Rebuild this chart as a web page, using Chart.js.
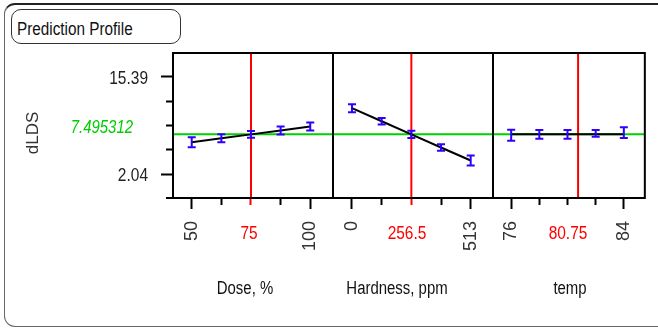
<!DOCTYPE html>
<html>
<head>
<meta charset="utf-8">
<title>Prediction Profile</title>
<script src="https://cdn.jsdelivr.net/npm/chart.js@4/dist/chart.umd.min.js"></script>
<style>
  html, body { margin: 0; padding: 0; background: #fff; }
  #wrap { position: relative; width: 658px; height: 329px; overflow: hidden; }
  #outer { position: absolute; left: 4px; top: 3px; width: 720px; height: 321px;
           border: 1px solid #666; border-top: 2px solid #222; border-radius: 11px; }
  #titleBox { position: absolute; left: 11px; top: 9px; width: 168px; height: 33px;
              border: 1px solid #333; border-radius: 10px; }
  #titleBox span { position: absolute; left: 5px; top: 9px; line-height: 20px; color: #111; white-space: nowrap;
                   font-size: 18px; font-family: "Liberation Sans", Arial, sans-serif;
                   transform: scaleX(0.85); transform-origin: left center; }
  canvas { position: absolute; left: 0; top: 0; }
</style>
</head>
<body>
<div id="wrap">
  <div id="outer"></div>
  <div id="titleBox"><span>Prediction Profile</span></div>
  <canvas id="c1" width="658" height="329"></canvas>
  <canvas id="c2" width="658" height="329"></canvas>
  <canvas id="c3" width="658" height="329"></canvas>
</div>
<script>
// response
const responseName = 'dLDS';
const predicted = 7.495312;
const yTicks = [2.04, 5.3775, 8.715, 12.0525, 15.39];
const yTickLabels = ['2.04', '', '', '', '15.39'];
const yMin = -1.26, yMax = 18.69;

// factors
const factorNames = ['Dose, %', 'Hardness, ppm', 'temp'];
const currentValues = [75, 256.5, 80.75];
const currentLabels = ['75', '256.5', '80.75'];

const doseLevels = [50, 62.5, 75, 87.5, 100];
const doseMean = [6.40, 6.95, 7.495, 8.04, 8.59];
const doseLow = [5.71, 6.40, 7.04, 7.49, 8.04];
const doseHigh = [7.09, 7.50, 7.95, 8.59, 9.14];
const doseTickLabels = ['50', '', '', '', '100'];
const doseRange = [42.1, 109.6];

const hardLevels = [0, 128.25, 256.5, 384.75, 513];
const hardMean = [11.1, 9.3, 7.495, 5.69, 3.9];
const hardLow = [10.55, 8.84, 7.0, 5.23, 3.21];
const hardHigh = [11.65, 9.76, 8.0, 6.15, 4.59];
const hardTickLabels = ['0', '', '', '', '513'];
const hardRange = [-82.1, 609.4];

const tempLevels = [76, 78, 80, 82, 84];
const tempMean = [7.495, 7.495, 7.495, 7.495, 7.495];
const tempLow = [6.63, 6.90, 6.90, 7.18, 7.00];
const tempHigh = [8.14, 8.10, 8.10, 8.10, 8.47];
const tempTickLabels = ['76', '', '', '', '84'];
const tempRange = [74.71, 85.49];

const REG = '"Liberation Sans", Arial, sans-serif';

const panels = [
  { id: 'c1', left: 173, right: 333, levels: doseLevels, mean: doseMean, low: doseLow, high: doseHigh,
    tickLabels: doseTickLabels, range: doseRange, k: 0, nameX: 245, curX: 249 },
  { id: 'c2', left: 333, right: 493, levels: hardLevels, mean: hardMean, low: hardLow, high: hardHigh,
    tickLabels: hardTickLabels, range: hardRange, k: 1, nameX: 397, curX: 407 },
  { id: 'c3', left: 493, right: 654, levels: tempLevels, mean: tempMean, low: tempLow, high: tempHigh,
    tickLabels: tempTickLabels, range: tempRange, k: 2, nameX: 570, curX: 568 }
];

// the original uses a narrow face, squeeze Liberation Sans sideways
function squeezedText(ctx, text, x, y, align, font, color, sx) {
  ctx.save();
  ctx.translate(x, y);
  ctx.scale(sx, 1);
  ctx.font = font;
  ctx.textAlign = align;
  ctx.fillStyle = color;
  ctx.fillText(text, 0, 0);
  ctx.restore();
}

// error bars, frame and labels
const profileDecor = {
  id: 'profileDecor',
  afterDatasetsDraw(chart, args, opts) {
    const p = opts.panel;
    const { ctx, chartArea: a } = chart;
    const x = chart.scales.x, y = chart.scales.y;
    ctx.save();
    ctx.strokeStyle = '#3000ff';
    ctx.lineWidth = 2;
    p.levels.forEach((lv, i) => {
      const px = x.getPixelForValue(lv);
      const y1 = y.getPixelForValue(p.low[i]);
      const y2 = y.getPixelForValue(p.high[i]);
      ctx.beginPath();
      ctx.moveTo(px, y1); ctx.lineTo(px, y2);
      ctx.moveTo(px - 4, y1); ctx.lineTo(px + 4, y1);
      ctx.moveTo(px - 4, y2); ctx.lineTo(px + 4, y2);
      ctx.stroke();
    });
    ctx.strokeStyle = '#000';
    ctx.lineWidth = 2;
    ctx.strokeRect(a.left, a.top, a.right - a.left, a.bottom - a.top);
    if (p.k === 0) {
      ctx.beginPath();
      ctx.moveTo(a.left - 7, a.bottom); ctx.lineTo(a.left, a.bottom);
      ctx.stroke();
    }
    ctx.restore();
  },
  afterDraw(chart, args, opts) {
    const p = opts.panel;
    const ctx = chart.ctx;
    squeezedText(ctx, currentLabels[p.k], p.curX, 239, 'center', '18px ' + REG, '#ff0000', 0.86);
    squeezedText(ctx, factorNames[p.k], p.nameX, 294, 'center', '18px ' + REG, '#111', 0.83);
    if (p.k === 0) {
      const y = chart.scales.y;
      yTicks.forEach((v, i) => {
        if (yTickLabels[i]) {
          squeezedText(ctx, yTickLabels[i], 148, y.getPixelForValue(v) + 7, 'right', '18px ' + REG, '#222', 0.86);
        }
      });
      squeezedText(ctx, String(predicted), 133, 133, 'right', 'italic 18px ' + REG, '#00cc00', 0.83);
      ctx.save();
      ctx.fillStyle = '#333';
      ctx.font = '17px ' + REG;
      ctx.translate(38, 133);
      ctx.rotate(-Math.PI / 2);
      ctx.textAlign = 'center';
      ctx.fillText(responseName, 0, 0);
      ctx.restore();
    }
  }
};

function makePanel(p) {
  const first = p.k === 0;
  const current = currentValues[p.k];
  const yScale = first ? {
    min: yMin, max: yMax,
    afterBuildTicks: s => { s.ticks = yTicks.map(v => ({ value: v })); },
    afterFit: s => { s.width = 173; },
    ticks: { display: false },
    grid: { drawOnChartArea: false, tickLength: 12, tickWidth: 2, tickColor: '#000',
            tickBorderDash: c => (yTickLabels[c.index] ? [] : [0, 5, 7, 50]) },
    border: { display: true, color: '#000', width: 2 }
  } : { display: false, min: yMin, max: yMax };

  return new Chart(document.getElementById(p.id), {
    type: 'line',
    data: {
      datasets: [
        { label: 'mean', data: p.levels.map((lv, i) => ({ x: lv, y: p.mean[i] })),
          borderColor: '#000', borderWidth: 2, pointRadius: 0 },
        { label: 'current', data: [{ x: current, y: yMin }, { x: current, y: yMax }],
          borderColor: '#ff0000', borderWidth: 2, pointRadius: 0 },
        { label: 'predicted', data: [{ x: p.range[0], y: predicted }, { x: p.range[1], y: predicted }],
          borderColor: '#00d000', borderWidth: 2, pointRadius: 0 }
      ]
    },
    options: {
      responsive: false,
      animation: false,
      layout: { padding: { left: first ? 0 : p.left, right: 658 - p.right, top: 53, bottom: 0 } },
      plugins: { legend: { display: false }, tooltip: { enabled: false }, profileDecor: { panel: p } },
      scales: {
        x: {
          type: 'linear', min: p.range[0], max: p.range[1],
          afterBuildTicks: s => { s.ticks = p.levels.map(v => ({ value: v })); },
          afterFit: s => { s.height = 131; },
          ticks: { autoSkip: false, minRotation: 90, maxRotation: 90, padding: 12, color: '#333',
                   font: { family: REG, size: 18 }, callback: (v, i) => p.tickLabels[i] },
          grid: { drawOnChartArea: false, tickLength: 11, tickWidth: 2,
                  tickColor: c => (c.tick && c.tick.value === current ? '#ff0000' : '#000'),
                  tickBorderDash: c => (p.tickLabels[c.index] ? [] : [6, 50]) },
          border: { display: true, color: '#000', width: 2 }
        },
        y: yScale
      }
    },
    plugins: [profileDecor]
  });
}

panels.forEach(makePanel);
</script>
</body>
</html>
